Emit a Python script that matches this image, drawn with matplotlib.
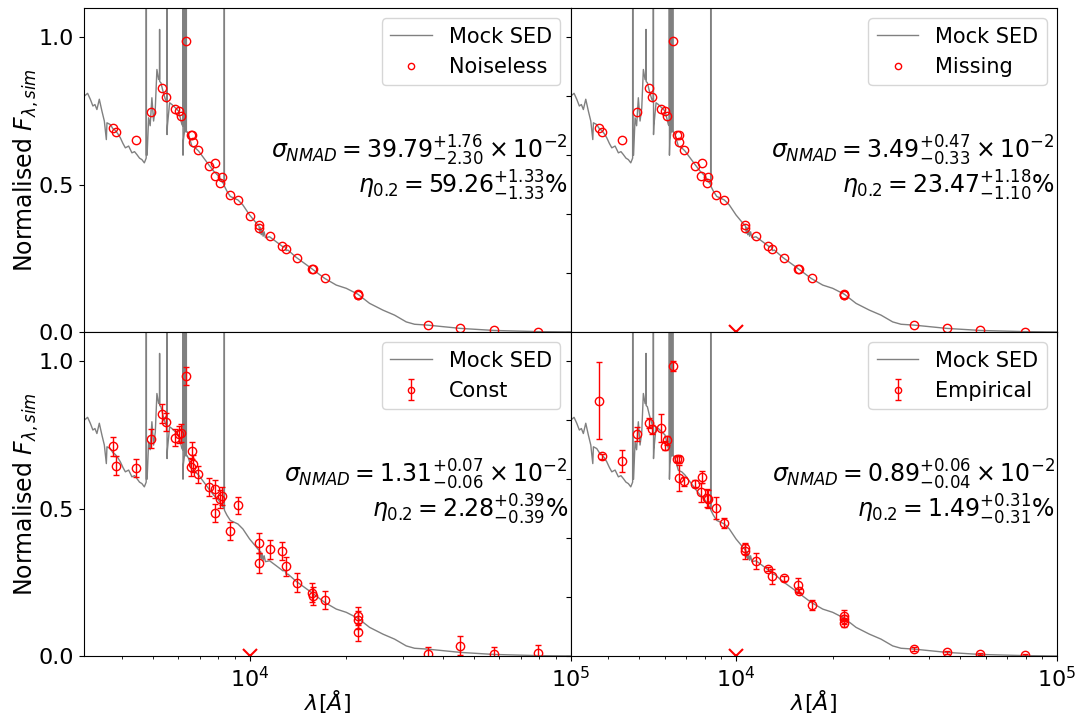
import numpy as np
import matplotlib
matplotlib.use('Agg')
import matplotlib.pyplot as plt

# ---------------- data ----------------
sed_wave = [3050, 3128, 3189, 3249, 3297, 3344, 3402, 3466, 3527, 3578, 3594, 3681,
            3750, 3816, 3890, 3956, 4030, 4101, 4199, 4299, 4380, 4456, 4540, 4618,
            4699, 4762, 4766, 4770, 4794, 4846, 4900, 4961, 5022, 5084, 5143, 5206, 5238,
            5243, 5248, 5293, 5369, 5463, 5520, 5526, 5532, 5546, 5634, 5727, 5868, 6009,
            6153, 6192, 6197, 6202, 6218, 6268, 6273, 6278, 6300, 6345, 6350, 6355, 6382,
            6457, 6611, 6773, 6936, 7191, 7454, 7727, 8006, 8199, 8335, 8341, 8347, 8389,
            8498, 8707, 9195, 9530, 10000, 10614, 10700, 10760, 10820, 10880, 10950, 11020,
            11100, 11200, 11543, 12111, 12697, 12900, 13000, 13162, 13979, 15566, 17126,
            18626, 20009, 21751, 23649, 26025, 28299, 30770, 32661, 35942, 45334, 57686,
            79300, 100000]
sed_flux = [0.800, 0.810, 0.790, 0.767, 0.772, 0.755, 0.790, 0.750, 0.716, 0.653, 0.710, 0.704,
            0.690, 0.684, 0.672, 0.659, 0.640, 0.625, 0.631, 0.608, 0.612, 0.602, 0.590, 0.585,
            0.574, 0.590, 3.000, 0.600, 0.600, 0.727, 0.700, 0.795, 0.716, 0.760, 0.891, 0.857, 0.857,
            1.027, 0.850, 0.846, 0.818, 0.790, 0.780, 3.000, 0.670, 0.700, 0.778, 0.772, 0.761, 0.750,
            0.704, 0.700, 3.000, 0.600, 0.650, 0.680, 2.000, 0.680, 0.680, 0.680, 3.000, 0.680, 0.680,
            0.670, 0.630, 0.625, 0.614, 0.591, 0.568, 0.546, 0.529, 0.511, 0.500, 3.000, 0.495, 0.490,
            0.478, 0.460, 0.448, 0.431, 0.397, 0.363, 0.360, 0.335, 0.355, 0.330, 0.345, 0.325,
            0.340, 0.320, 0.323, 0.306, 0.289, 0.290, 0.276, 0.278, 0.253, 0.216, 0.182,
            0.159, 0.148, 0.128, 0.097, 0.074, 0.057, 0.034, 0.026, 0.023, 0.012, 0.005,
            0.001, 0.000]

band_wave = [3751, 3825, 4414, 4926, 5346, 5474, 5853, 6023, 6109, 6350,
             6563, 6630, 6640, 6902, 7468, 7800, 7818, 8103, 8180, 8681,
             9195, 10000, 10689, 10700, 11567, 12580, 12975, 14082, 15600, 15748,
             17213, 21700, 21710, 21720, 35950, 45330, 57690, 79300]

noiseless_flux = [0.692, 0.680, 0.652, 0.747, 0.827, 0.799, 0.756, 0.751, 0.734, 0.988,
                  0.670, 0.670, 0.646, 0.617, 0.565, 0.530, 0.574, 0.506, 0.527, 0.464,
                  0.447, 0.393, 0.362, 0.354, 0.325, 0.292, 0.283, 0.250, 0.215, 0.214,
                  0.182, 0.128, 0.127, 0.127, 0.023, 0.012, 0.005, 0.001]

missing_flux = [0.692, 0.680, 0.652, 0.747, 0.827, 0.799, 0.756, 0.751, 0.734, 0.988,
                0.670, 0.670, 0.646, 0.617, 0.565, 0.530, 0.574, 0.506, 0.527, 0.464,
                0.447, np.nan, 0.362, 0.354, 0.325, 0.292, 0.283, 0.250, 0.215, 0.214,
                0.182, 0.128, 0.127, 0.127, 0.023, 0.012, 0.005, 0.001]

const_flux = [0.712, 0.646, 0.637, 0.738, 0.823, 0.795, 0.740, 0.752, 0.757, 0.950,
              0.642, 0.697, 0.653, 0.616, 0.574, 0.485, 0.566, 0.533, 0.544, 0.423,
              0.511, np.nan, 0.384, 0.315, 0.362, 0.356, 0.305, 0.248, 0.215, 0.203,
              0.189, 0.136, 0.122, 0.082, 0.005, 0.035, 0.006, 0.009]
const_err = [0.032, 0.032, 0.031, 0.031, 0.031, 0.031, 0.029, 0.028, 0.030, 0.030,
             0.030, 0.030, 0.030, 0.030, 0.030, 0.030, 0.030, 0.030, 0.030, 0.030,
             0.030, np.nan, 0.033, 0.033, 0.032, 0.032, 0.032, 0.032, 0.031, 0.031,
             0.031, 0.031, 0.031, 0.031, 0.026, 0.032, 0.025, 0.028]

empirical_flux = [0.867, 0.678, 0.661, 0.754, 0.792, 0.769, 0.774, 0.714, 0.732, 0.984,
                  0.669, 0.667, 0.604, 0.593, 0.585, 0.555, 0.608, 0.536, 0.533, 0.502,
                  0.451, np.nan, 0.366, 0.355, 0.321, 0.295, 0.270, 0.264, 0.241, 0.221,
                  0.173, 0.136, 0.125, 0.113, 0.024, 0.013, 0.007, 0.004]
empirical_err = [0.132, 0.009, 0.037, 0.024, 0.017, 0.014, 0.047, 0.014, 0.015, 0.017,
                 0.011, 0.011, 0.045, 0.015, 0.011, 0.031, 0.021, 0.030, 0.030, 0.037,
                 0.018, np.nan, 0.019, 0.025, 0.027, 0.007, 0.025, 0.008, 0.023, 0.007,
                 0.018, 0.019, 0.015, 0.015, 0.006, 0.005, 0.004, 0.003]

panel_labels = ['Noiseless', 'Missing', 'Const', 'Empirical']
sigma_txt = [r'$\sigma_{NMAD}=39.79^{+1.76}_{-2.30}\times10^{-2}$',
             r'$\sigma_{NMAD}=3.49^{+0.47}_{-0.33}\times10^{-2}$',
             r'$\sigma_{NMAD}=1.31^{+0.07}_{-0.06}\times10^{-2}$',
             r'$\sigma_{NMAD}=0.89^{+0.06}_{-0.04}\times10^{-2}$']
eta_txt = [r'$\eta_{0.2}=59.26^{+1.33}_{-1.33}\%$',
           r'$\eta_{0.2}=23.47^{+1.18}_{-1.10}\%$',
           r'$\eta_{0.2}=2.28^{+0.39}_{-0.39}\%$',
           r'$\eta_{0.2}=1.49^{+0.31}_{-0.31}\%$']
missing_band_wave = [10000]

# ---------------- figure ----------------
fig, axes = plt.subplots(2, 2, figsize=(10.78, 7.2), dpi=100, sharex=True)
fig.subplots_adjust(left=0.078, right=0.9805, top=0.989, bottom=0.089,
                    hspace=0, wspace=0)

point_sets = [(noiseless_flux, None), (missing_flux, None),
              (const_flux, const_err), (empirical_flux, empirical_err)]

for i, ax in enumerate(axes.flat):
    ax.plot(sed_wave, sed_flux, color='gray', lw=1, label='Mock SED')
    flux, err = point_sets[i]
    if err is None:
        ax.plot(band_wave, flux, 'o', mfc='none', mec='red', ms=6, mew=1,
                ls='none', label=panel_labels[i])
    else:
        ax.errorbar(band_wave, flux, yerr=err, fmt='o', mfc='none', mec='red',
                    ecolor='red', ms=6, mew=1, elinewidth=1, capsize=2.5,
                    label=panel_labels[i])
    if i > 0:
        ax.plot(missing_band_wave, [0.0], 'x', color='red', ms=10, mew=1.5)
    ax.set_xscale('log')
    ax.set_xlim(3050, 1e5)
    ax.set_ylim(0, 1.1)
    ax.tick_params(labelsize=16)
    ax.legend(loc='upper right', fontsize=15, markerscale=0.75)
    ax.text(0.995, 0.56, sigma_txt[i], transform=ax.transAxes, ha='right',
            va='center', fontsize=17)
    ax.text(0.995, 0.45, eta_txt[i], transform=ax.transAxes, ha='right',
            va='center', fontsize=17)
    if i % 2 == 0:
        ax.set_yticks([0.0, 0.5, 1.0])
        ax.set_ylabel(r'Normalised $F_{\lambda,sim}$', fontsize=17)
        ax.yaxis.set_label_coords(-0.088, 0.5)
    else:
        ax.tick_params(labelleft=False)
    if i >= 2:
        ax.set_xlabel(r'$\lambda[\AA]$', fontsize=16)
        ax.xaxis.set_label_coords(0.5, -0.10)

fig.savefig('out.png', dpi=100)
